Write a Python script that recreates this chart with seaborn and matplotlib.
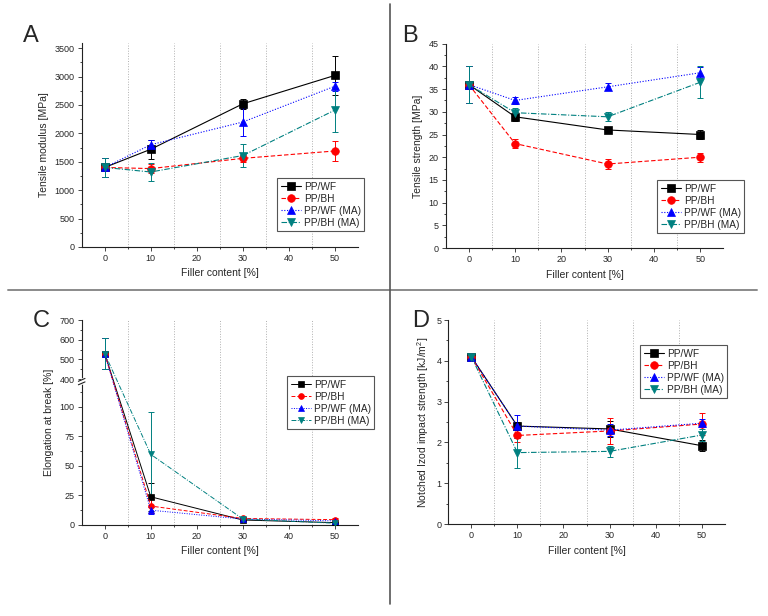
import matplotlib.pyplot as plt
import matplotlib.lines as mlines
from matplotlib.ticker import MultipleLocator
import numpy as np
import seaborn as sns

sns.set_theme(style="ticks")
plt.rcParams['font.family'] = ['Liberation Sans', 'DejaVu Sans']
plt.rcParams['mathtext.fontset'] = 'custom'
plt.rcParams['mathtext.rm'] = 'Liberation Sans'

filler = [0, 10, 30, 50]
series = ["PP/WF", "PP/BH", "PP/WF (MA)", "PP/BH (MA)"]

# A - tensile modulus [MPa]
mod_wf = [1400, 1720, 2520, 3020]
mod_wf_err = [170, 170, 90, 345]
mod_bh = [1400, 1380, 1560, 1690]
mod_bh_err = [170, 80, 60, 180]
mod_wf_ma = [1400, 1800, 2200, 2830]
mod_wf_ma_err = [170, 90, 250, 80]
mod_bh_ma = [1400, 1320, 1610, 2410]
mod_bh_ma_err = [170, 150, 200, 395]

# B - tensile strength [MPa]
str_wf = [36, 28.9, 26.0, 25.0]
str_wf_err = [4, 1, 0.5, 1]
str_bh = [36, 23.0, 18.5, 20.0]
str_bh_err = [4, 1, 1, 1]
str_wf_ma = [36, 32.5, 35.5, 38.6]
str_wf_ma_err = [4, 0.8, 0.8, 1.2]
str_bh_ma = [36, 29.8, 28.9, 36.5]
str_bh_ma_err = [4, 1, 1, 3.5]

# C - elongation at break [%]
el_wf = [530, 23.8, 4.2, 2.0]
el_wf_err = [78, 12, 1, 0.5]
el_bh = [530, 16, 5.5, 4.5]
el_bh_err = [78, 6, 1, 1]
el_wf_ma = [530, 12.5, 5, 3.5]
el_wf_ma_err = [78, 3, 1, 0.5]
el_bh_ma = [530, 59.6, 5, 1.5]
el_bh_ma_err = [78, 35.5, 1, 0.5]

# D - notched Izod impact strength [kJ/m2]
imp_wf = [4.10, 2.40, 2.33, 1.92]
imp_wf_err = [0.05, 0.1, 0.2, 0.13]
imp_bh = [4.10, 2.17, 2.28, 2.45]
imp_bh_err = [0.05, 0.15, 0.32, 0.26]
imp_wf_ma = [4.10, 2.40, 2.30, 2.47]
imp_wf_ma_err = [0.05, 0.28, 0.15, 0.1]
imp_bh_ma = [4.10, 1.75, 1.78, 2.18]
imp_bh_ma_err = [0.05, 0.37, 0.13, 0.15]

colors = ["#000000", "#ff0000", "#0000ff", "#008080"]
markers = ["s", "o", "^", "v"]
msize = [1.0, 1.0, 1.15, 1.15]
styles = ["-", (0, (4, 2)), (0, (1, 1.5)), (0, (5, 1.5, 1, 1.5))]

fig = plt.figure(figsize=(7.68, 6.16), dpi=100)


def panel(rect, vals, errs, ms=5.5, lw=0.8):
    ax = fig.add_axes(rect)
    for i in range(4):
        ax.errorbar(filler, vals[i], yerr=errs[i], fmt="none", ecolor=colors[i],
                    elinewidth=0.7, capsize=2, capthick=0.7, zorder=2)
        sns.lineplot(x=filler, y=vals[i], ax=ax, color=colors[i], marker=markers[i],
                     markersize=ms * msize[i], mec=colors[i], mew=0.5, linestyle=styles[i],
                     lw=lw, label=series[i], errorbar=None, zorder=3)
    ax.set_xlim(-5, 55)
    ax.set_xticks([0, 10, 20, 30, 40, 50])
    ax.set_xticks([5, 15, 25, 35, 45], minor=True)
    ax.grid(which="minor", axis="x", color="#b0b0b0", linestyle=":", lw=0.7)
    ax.grid(which="major", axis="both", visible=False)
    ax.set_xlabel("Filler content [%]", fontsize=7.5, labelpad=4)
    ax.tick_params(which="major", direction="out", length=3, width=0.6, labelsize=6.5, pad=2)
    ax.tick_params(which="minor", direction="out", length=1.5, width=0.6)
    sns.despine(ax=ax)
    for s in ["left", "bottom"]:
        ax.spines[s].set_linewidth(0.8)
        ax.spines[s].set_color("#222222")
    return ax


def legend(ax, x0, y0):
    lg = ax.legend(loc="upper left", bbox_to_anchor=(x0 / 768, 1 - y0 / 616),
                   bbox_transform=fig.transFigure, borderaxespad=0, fontsize=7.3,
                   fancybox=False, framealpha=1, edgecolor="#555555",
                   handlelength=2.0, handletextpad=0.3, labelspacing=0.2,
                   borderpad=0.35, markerscale=1.0)
    lg.get_frame().set_linewidth(0.8)
    lg.set_zorder(10)


# A
axA = panel([81.7 / 768, 1 - 247 / 616, 276.3 / 768, 204 / 616],
            [mod_wf, mod_bh, mod_wf_ma, mod_bh_ma],
            [mod_wf_err, mod_bh_err, mod_wf_ma_err, mod_bh_ma_err])
axA.set_ylim(0, 3590)
axA.set_yticks(np.arange(0, 3501, 500))
axA.yaxis.set_minor_locator(MultipleLocator(250))
axA.set_ylabel("Tensile modulus [MPa]", fontsize=7.5)
legend(axA, 277, 178)

# B
axB = panel([445.7 / 768, 1 - 248 / 616, 277.6 / 768, 204.3 / 616],
            [str_wf, str_bh, str_wf_ma, str_bh_ma],
            [str_wf_err, str_bh_err, str_wf_ma_err, str_bh_ma_err])
axB.set_ylim(0, 45)
axB.set_yticks(np.arange(0, 46, 5))
axB.yaxis.set_minor_locator(MultipleLocator(2.5))
axB.set_ylabel("Tensile strength [MPa]", fontsize=7.5)
legend(axB, 657, 180)

# C (broken y axis)
axC = panel([81.7 / 768, 1 - 525 / 616, 276.3 / 768, 205 / 616],
            [el_wf, el_bh, el_wf_ma, el_bh_ma],
            [el_wf_err, el_bh_err, el_wf_ma_err, el_bh_ma_err], ms=4.2, lw=0.7)
knots_in = [-1000, 0, 120, 400, 700, 2000]
knots_out = [-1000, 0, 120, 123, 173, 173 + 1300 * 50 / 300]
axC.set_yscale("function", functions=(lambda y: np.interp(y, knots_in, knots_out),
                                      lambda y: np.interp(y, knots_out, knots_in)))
axC.set_ylim(0, 700)
axC.set_yticks([0, 25, 50, 75, 100, 400, 500, 600, 700])
axC.set_yticks([12.5, 37.5, 62.5, 87.5, 112.5, 450, 550, 650], minor=True)
axC.set_ylabel("Elongation at break [%]", fontsize=7.5)
# gap and break marks on the y axis
axC.plot([0, 0], [0.695, 0.712], transform=axC.transAxes, color="white", lw=2,
         clip_on=False, zorder=6)
for yb in [0.690, 0.707]:
    axC.plot([-0.012, 0.012], [yb - 0.006, yb + 0.008], transform=axC.transAxes,
             color="#222222", lw=0.8, clip_on=False, zorder=7)
legend(axC, 287, 376)

# D
axD = panel([448.3 / 768, 1 - 524 / 616, 276.4 / 768, 204 / 616],
            [imp_wf, imp_bh, imp_wf_ma, imp_bh_ma],
            [imp_wf_err, imp_bh_err, imp_wf_ma_err, imp_bh_ma_err])
axD.set_ylim(0, 5)
axD.set_yticks(np.arange(0, 6, 1))
axD.yaxis.set_minor_locator(MultipleLocator(0.5))
axD.set_ylabel("Notched Izod impact strength [kJ/m$^2$]", fontsize=7.5)
legend(axD, 640, 345)

# panel letters
for letter, x, y in [("A", 23, 42), ("B", 402, 42), ("C", 33, 327), ("D", 412, 327)]:
    fig.text(x / 768, 1 - y / 616, letter, fontsize=17, va="baseline", ha="left")

# divider lines
fig.add_artist(mlines.Line2D([8 / 768, 757 / 768], [1 - 289.5 / 616] * 2,
                             color="#8a8a8a", lw=1.4))
fig.add_artist(mlines.Line2D([390 / 768] * 2, [1 - 4 / 616, 1 - 604 / 616],
                             color="#555555", lw=1.2))

fig.savefig("out.png", dpi=100, facecolor="white")
